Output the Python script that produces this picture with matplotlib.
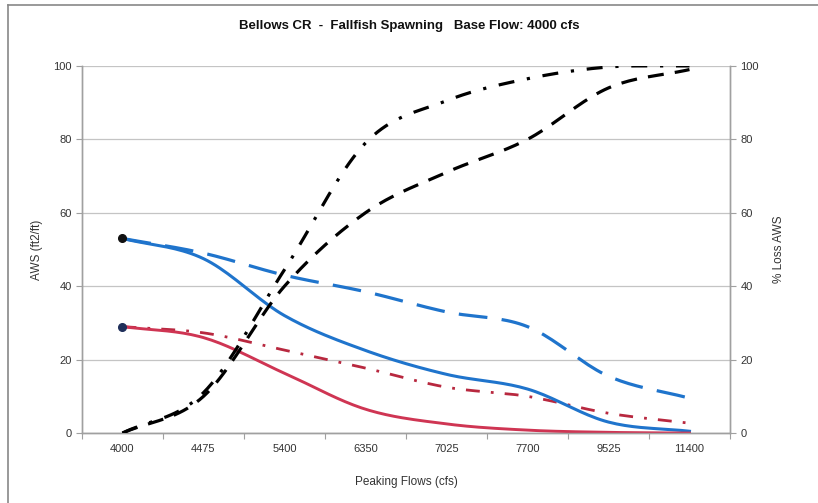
"""Bellows CR fallfish spawning: AWS and % loss vs peaking flow."""
import numpy as np
from matplotlib import pyplot as plt
from matplotlib.lines import Line2D

plt.rcParams["font.family"] = ["Liberation Sans", "DejaVu Sans"]

flows = ["4000", "4475", "5400", "6350", "7025", "7700", "9525", "11400"]

# AWS (ft2/ft), left axis
blue_solid = [53, 47.5, 32, 22.5, 16, 12, 3, 0.5]
blue_dashed = [53, 49, 43, 38.5, 33, 29, 15.5, 9.5]
red_solid = [29, 26, 16.3, 6.5, 2.5, 0.8, 0.2, 0]
red_dashdot = [29, 27.3, 22.6, 17.7, 12.5, 10, 5.4, 2.7]

# % Loss AWS, right axis
loss_dashdot = [0, 11, 44.5, 79, 90.5, 96.5, 99.7, 100]
loss_dashed = [0, 10, 40, 60, 71, 80, 94, 99]

BLUE = "#1f74cc"
RED = "#cf3553"
DKRED = "#b8283f"
GRID = "#c4c4c4"
SPINE = "#a0a0a0"
TXT = "#333333"


def smooth(ys, n=20):
    """Catmull-Rom curve through the points, for an Excel-like smoothed line."""
    ys = np.asarray(ys, dtype=float)
    xs = np.arange(len(ys), dtype=float)
    px = np.concatenate([[2 * xs[0] - xs[1]], xs, [2 * xs[-1] - xs[-2]]])
    py = np.concatenate([[2 * ys[0] - ys[1]], ys, [2 * ys[-1] - ys[-2]]])
    out_x, out_y = [], []
    t = np.linspace(0, 1, n, endpoint=False)
    for i in range(1, len(px) - 2):
        for p, out in ((px, out_x), (py, out_y)):
            p0, p1, p2, p3 = p[i - 1], p[i], p[i + 1], p[i + 2]
            out.extend(0.5 * ((2 * p1) + (-p0 + p2) * t
                              + (2 * p0 - 5 * p1 + 4 * p2 - p3) * t ** 2
                              + (-p0 + 3 * p1 - 3 * p2 + p3) * t ** 3))
    out_x.append(xs[-1])
    out_y.append(ys[-1])
    return np.array(out_x), np.array(out_y)


fig = plt.figure(figsize=(8.18, 5.03), dpi=100)
ax = fig.add_axes([0.1002, 0.139, 0.7922, 0.730])
ax2 = ax.twinx()

# left axis series
x, y = smooth(blue_dashed)
ax.plot(x, y, color=BLUE, lw=2.3, dashes=(9, 4.5), zorder=3)
x, y = smooth(blue_solid)
ax.plot(x, y, color=BLUE, lw=2.2, zorder=4)
x, y = smooth(red_dashdot)
ax.plot(x, y, color=DKRED, lw=2.0, dashes=(5, 4, 1, 4), zorder=3)
x, y = smooth(red_solid)
ax.plot(x, y, color=RED, lw=2.1, zorder=4)
ax.plot([0], [blue_solid[0]], "o", color="#111111", ms=5.5, zorder=5)
ax.plot([0], [red_solid[0]], "o", color="#1f2f5a", ms=5.5, zorder=5)

# right axis series
x, y = smooth(loss_dashdot)
ax2.plot(x, np.minimum(y, 100), color="black", lw=2.3, dashes=(5, 4, 1, 4), zorder=3)
x, y = smooth(loss_dashed)
ax2.plot(x, np.minimum(y, 100), color="black", lw=2.3, dashes=(5, 3.5), zorder=3)

for a in (ax, ax2):
    a.set_xlim(-0.5, len(flows) - 0.5)
    a.set_ylim(0, 100)
    a.set_yticks(range(0, 101, 20))
    a.spines["top"].set_visible(False)
    for side in ("left", "right", "bottom"):
        a.spines[side].set_color(SPINE)
        a.spines[side].set_linewidth(1.0)
    a.tick_params(axis="y", colors=SPINE, labelcolor=TXT, labelsize=8, length=4, width=0.8)

ax.yaxis.grid(True, color=GRID, lw=0.9)
ax.set_axisbelow(True)
ax.set_xticks(range(len(flows)))
ax.set_xticklabels(flows)
ax.set_xticks(np.arange(-0.5, len(flows), 1.0), minor=True)
ax.tick_params(axis="x", which="major", length=0, labelsize=8, labelcolor=TXT, pad=8)
ax.tick_params(axis="x", which="minor", length=4, color=SPINE, width=0.8)

ax.set_xlabel("Peaking Flows (cfs)", fontsize=8.5, color=TXT, labelpad=16)
ax.set_ylabel("AWS (ft2/ft)", fontsize=8.5, color=TXT, labelpad=7)
ax2.set_ylabel("% Loss AWS", fontsize=8.5, color=TXT, labelpad=10)

fig.text(0.5, 0.948, "Bellows CR  -  Fallfish Spawning   Base Flow: 4000 cfs",
         ha="center", va="center", fontsize=9.5, fontweight="bold", color="#111111")

# chart frame along the left and top edges
fig.add_artist(Line2D([0.01, 0.01], [0.0, 0.99], color="#888888", lw=1.2))
fig.add_artist(Line2D([0.01, 1.0], [0.99, 0.99], color="#888888", lw=1.2))

fig.savefig("out.png", dpi=100)
